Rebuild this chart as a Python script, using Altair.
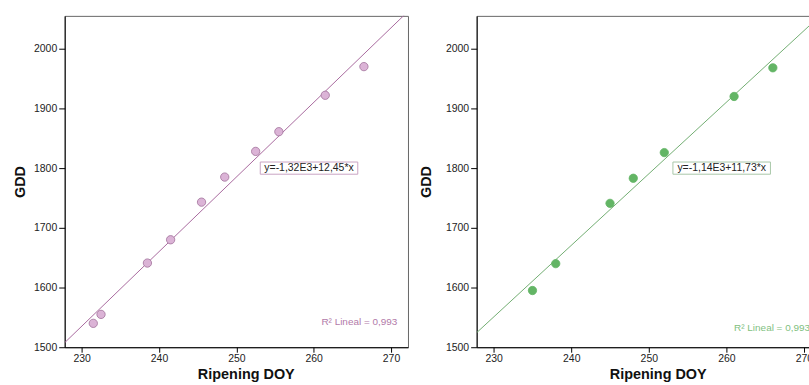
import altair as alt
import numpy as np
import pandas as pd

# Left panel data
doy_a = [231.5, 232.5, 238.5, 241.5, 245.5, 248.5, 252.5, 255.5, 261.5, 266.5]
gdd_a = [1540, 1555, 1641, 1680, 1743, 1785, 1828, 1861, 1922, 1970]
eq_a = "y=-1,32E3+12,45*x"
r2_a = "R² Lineal = 0,993"

# Right panel data
doy_b = [235, 238, 245, 248, 252, 261, 266]
gdd_b = [1595, 1640, 1741, 1783, 1826, 1920, 1968]
eq_b = "y=-1,14E3+11,73*x"
r2_b = "R² Lineal = 0,993"

x_ticks = [230, 240, 250, 260, 270]
y_ticks = [1500, 1600, 1700, 1800, 1900, 2000]
x_dom = [227.8, 272.2]
y_dom = [1500, 2055]

FONT = "Liberation Sans"
W, H = 345, 333

# annotation anchors (data units)
eq_pos = (259.4, 1800)
r2_pos_a = (261.0, 1543)
r2_pos_b = (261.0, 1532)

BOX = "M-1,-0.125L1,-0.125L1,0.125L-1,0.125Z"


def panel(doy, gdd, eq, r2, r2pos, fill, stroke, line_col, box_col, r2_col, ypad):
    slope, icpt = np.polyfit(doy, gdd, 1)
    pts = pd.DataFrame({"doy": doy, "gdd": gdd})
    lx = np.array(x_dom)
    line_df = pd.DataFrame({"doy": lx, "gdd": icpt + slope * lx})
    xs = alt.Scale(domain=x_dom, nice=False, zero=False)
    ys = alt.Scale(domain=y_dom, nice=False, zero=False)
    xax = alt.Axis(values=x_ticks, format="d", title="Ripening DOY", grid=False, tickSize=5,
                   labelPadding=1, titlePadding=4, titleX=182, labelFontSize=10.5,
                   titleFontSize=14.5, titleFontWeight="bold", labelFont=FONT,
                   titleFont=FONT, domainColor="#000", tickColor="#000",
                   labelColor="#222", titleColor="#111")
    yax = alt.Axis(values=y_ticks, format="d", title="GDD", grid=False, tickSize=6,
                   labelPadding=2, titlePadding=ypad, labelFontSize=10.5,
                   titleFontSize=14.5, titleFontWeight="bold", labelFont=FONT,
                   titleFont=FONT, domainColor="#000", tickColor="#000",
                   labelColor="#222", titleColor="#111")
    x = alt.X("doy:Q", scale=xs, axis=xax)
    y = alt.Y("gdd:Q", scale=ys, axis=yax)
    line = alt.Chart(line_df).mark_line(color=line_col, strokeWidth=1, clip=True).encode(x=x, y=y)
    points = alt.Chart(pts).mark_point(filled=True, size=70, fill=fill, stroke=stroke,
                                       strokeWidth=0.8, opacity=1).encode(x=x, y=y)
    ann = pd.DataFrame({"doy": [eq_pos[0]], "gdd": [eq_pos[1]], "t": [eq]})
    box = alt.Chart(ann).mark_point(shape=BOX, size=98 * 98, filled=False,
                                    stroke=box_col, strokeWidth=1, opacity=1).encode(
        x=x, y=y, fill=alt.value("white"))
    eqt = alt.Chart(ann).mark_text(font=FONT, fontSize=10.5, color="#222").encode(
        x=x, y=y, text="t:N")
    r2df = pd.DataFrame({"doy": [r2pos[0]], "gdd": [r2pos[1]], "t": [r2]})
    r2t = alt.Chart(r2df).mark_text(font=FONT, fontSize=10, color=r2_col, align="left").encode(
        x=x, y=y, text="t:N")
    return alt.layer(line, points, box, eqt, r2t).properties(width=W, height=H)


left = panel(doy_a, gdd_a, eq_a, r2_a, r2_pos_a, "#dbb3d6", "#a0709a", "#a86a9e",
             "#c9a3c3", "#b27aa9", 6)
right = panel(doy_b, gdd_b, eq_b, r2_b, r2_pos_b, "#63b565", "#63b565", "#72ad72",
              "#a8c8a8", "#7fbf7f", 12).properties(width=346)

chart = alt.hconcat(left, right, spacing=9).properties(
    padding={"left": 12, "top": 14, "right": -13, "bottom": 0},
    background="white",
).configure_view(stroke="#666", strokeWidth=1)

chart.save("out.html", embed_options={"renderer": "svg", "actions": False})
